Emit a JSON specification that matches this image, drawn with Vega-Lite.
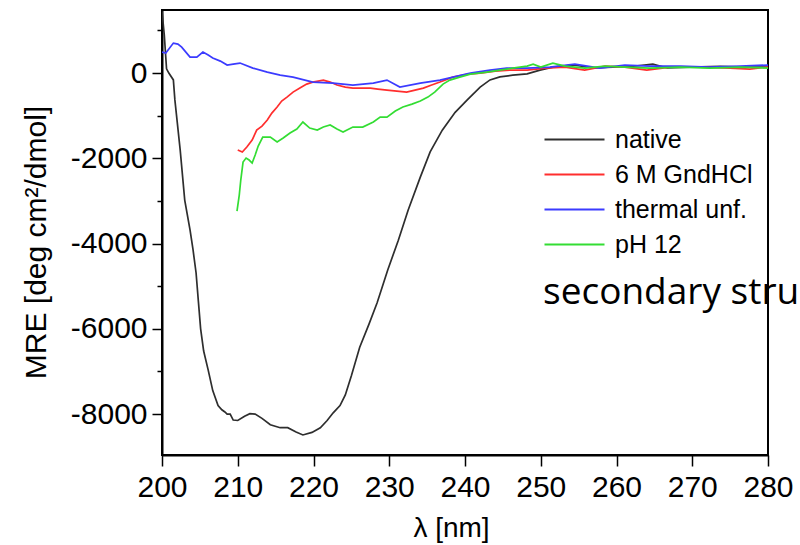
{
  "$schema": "https://vega.github.io/schema/vega-lite/v6.json",
  "width": 606,
  "height": 445,
  "autosize": "none",
  "padding": {"left": 162, "top": 10, "right": 32, "bottom": 90},
  "background": "white",
  "config": {"view": {"stroke": "black", "strokeWidth": 2}, "font": "Liberation Sans"},
  "layer": [
    {
      "data": {"values": [
        {"series": "native", "wl": 200.0, "mre": 1450},
        {"series": "native", "wl": 200.3, "mre": 900},
        {"series": "native", "wl": 200.6, "mre": 100},
        {"series": "native", "wl": 200.9, "mre": 0},
        {"series": "native", "wl": 201.5, "mre": -160},
        {"series": "native", "wl": 201.7, "mre": -630},
        {"series": "native", "wl": 202.4, "mre": -1800},
        {"series": "native", "wl": 203.0, "mre": -2980},
        {"series": "native", "wl": 203.7, "mre": -3680},
        {"series": "native", "wl": 204.1, "mre": -4150},
        {"series": "native", "wl": 204.5, "mre": -4690},
        {"series": "native", "wl": 204.8, "mre": -5350},
        {"series": "native", "wl": 205.1, "mre": -6000},
        {"series": "native", "wl": 205.5, "mre": -6520},
        {"series": "native", "wl": 206.1, "mre": -6970},
        {"series": "native", "wl": 206.7, "mre": -7450},
        {"series": "native", "wl": 207.4, "mre": -7800},
        {"series": "native", "wl": 207.9, "mre": -7900},
        {"series": "native", "wl": 208.3, "mre": -7950},
        {"series": "native", "wl": 208.6, "mre": -8000},
        {"series": "native", "wl": 209.0, "mre": -8000},
        {"series": "native", "wl": 209.4, "mre": -8140},
        {"series": "native", "wl": 210.0, "mre": -8150},
        {"series": "native", "wl": 210.9, "mre": -8050},
        {"series": "native", "wl": 211.6, "mre": -7990},
        {"series": "native", "wl": 212.3, "mre": -8000},
        {"series": "native", "wl": 213.2, "mre": -8100},
        {"series": "native", "wl": 214.3, "mre": -8250},
        {"series": "native", "wl": 215.6, "mre": -8320},
        {"series": "native", "wl": 216.6, "mre": -8320},
        {"series": "native", "wl": 217.7, "mre": -8420},
        {"series": "native", "wl": 218.6, "mre": -8490},
        {"series": "native", "wl": 219.8, "mre": -8430},
        {"series": "native", "wl": 220.9, "mre": -8320},
        {"series": "native", "wl": 221.8, "mre": -8150},
        {"series": "native", "wl": 222.6, "mre": -7970},
        {"series": "native", "wl": 223.5, "mre": -7800},
        {"series": "native", "wl": 224.2, "mre": -7550},
        {"series": "native", "wl": 225.0, "mre": -7100},
        {"series": "native", "wl": 226.1, "mre": -6430},
        {"series": "native", "wl": 227.3, "mre": -5900},
        {"series": "native", "wl": 228.4, "mre": -5390},
        {"series": "native", "wl": 229.8, "mre": -4620},
        {"series": "native", "wl": 231.2, "mre": -3920},
        {"series": "native", "wl": 232.5, "mre": -3210},
        {"series": "native", "wl": 234.1, "mre": -2440},
        {"series": "native", "wl": 235.4, "mre": -1850},
        {"series": "native", "wl": 237.0, "mre": -1340},
        {"series": "native", "wl": 238.7, "mre": -920},
        {"series": "native", "wl": 240.3, "mre": -630},
        {"series": "native", "wl": 242.0, "mre": -330},
        {"series": "native", "wl": 243.3, "mre": -160},
        {"series": "native", "wl": 244.6, "mre": -90},
        {"series": "native", "wl": 246.3, "mre": -50},
        {"series": "native", "wl": 248.2, "mre": -20},
        {"series": "native", "wl": 249.9, "mre": 70},
        {"series": "native", "wl": 251.6, "mre": 140},
        {"series": "native", "wl": 254.3, "mre": 190},
        {"series": "native", "wl": 256.9, "mre": 120},
        {"series": "native", "wl": 259.5, "mre": 140},
        {"series": "native", "wl": 262.2, "mre": 160},
        {"series": "native", "wl": 264.8, "mre": 210},
        {"series": "native", "wl": 266.7, "mre": 120},
        {"series": "native", "wl": 269.7, "mre": 140},
        {"series": "native", "wl": 273.7, "mre": 160},
        {"series": "native", "wl": 277.0, "mre": 140},
        {"series": "native", "wl": 280.0, "mre": 140},

        {"series": "6 M GndHCl", "wl": 210.0, "mre": -1806},
        {"series": "6 M GndHCl", "wl": 210.6, "mre": -1853},
        {"series": "6 M GndHCl", "wl": 211.2, "mre": -1735},
        {"series": "6 M GndHCl", "wl": 211.9, "mre": -1571},
        {"series": "6 M GndHCl", "wl": 212.5, "mre": -1337},
        {"series": "6 M GndHCl", "wl": 213.2, "mre": -1243},
        {"series": "6 M GndHCl", "wl": 213.9, "mre": -1102},
        {"series": "6 M GndHCl", "wl": 214.5, "mre": -938},
        {"series": "6 M GndHCl", "wl": 215.2, "mre": -797},
        {"series": "6 M GndHCl", "wl": 215.8, "mre": -657},
        {"series": "6 M GndHCl", "wl": 216.5, "mre": -563},
        {"series": "6 M GndHCl", "wl": 217.3, "mre": -446},
        {"series": "6 M GndHCl", "wl": 218.2, "mre": -352},
        {"series": "6 M GndHCl", "wl": 219.1, "mre": -258},
        {"series": "6 M GndHCl", "wl": 219.9, "mre": -211},
        {"series": "6 M GndHCl", "wl": 221.3, "mre": -164},
        {"series": "6 M GndHCl", "wl": 222.2, "mre": -211},
        {"series": "6 M GndHCl", "wl": 223.1, "mre": -281},
        {"series": "6 M GndHCl", "wl": 224.2, "mre": -328},
        {"series": "6 M GndHCl", "wl": 225.2, "mre": -352},
        {"series": "6 M GndHCl", "wl": 226.4, "mre": -352},
        {"series": "6 M GndHCl", "wl": 227.5, "mre": -352},
        {"series": "6 M GndHCl", "wl": 228.5, "mre": -375},
        {"series": "6 M GndHCl", "wl": 229.7, "mre": -399},
        {"series": "6 M GndHCl", "wl": 231.0, "mre": -422},
        {"series": "6 M GndHCl", "wl": 232.3, "mre": -446},
        {"series": "6 M GndHCl", "wl": 233.4, "mre": -399},
        {"series": "6 M GndHCl", "wl": 234.5, "mre": -352},
        {"series": "6 M GndHCl", "wl": 235.6, "mre": -281},
        {"series": "6 M GndHCl", "wl": 236.7, "mre": -211},
        {"series": "6 M GndHCl", "wl": 238.4, "mre": -94},
        {"series": "6 M GndHCl", "wl": 240.4, "mre": -23},
        {"series": "6 M GndHCl", "wl": 242.0, "mre": 0},
        {"series": "6 M GndHCl", "wl": 244.0, "mre": 47},
        {"series": "6 M GndHCl", "wl": 245.9, "mre": 70},
        {"series": "6 M GndHCl", "wl": 248.2, "mre": 70},
        {"series": "6 M GndHCl", "wl": 250.6, "mre": 117},
        {"series": "6 M GndHCl", "wl": 253.2, "mre": 141},
        {"series": "6 M GndHCl", "wl": 255.8, "mre": 70},
        {"series": "6 M GndHCl", "wl": 258.5, "mre": 164},
        {"series": "6 M GndHCl", "wl": 261.1, "mre": 141},
        {"series": "6 M GndHCl", "wl": 264.0, "mre": 70},
        {"series": "6 M GndHCl", "wl": 267.1, "mre": 141},
        {"series": "6 M GndHCl", "wl": 271.0, "mre": 141},
        {"series": "6 M GndHCl", "wl": 275.0, "mre": 117},
        {"series": "6 M GndHCl", "wl": 277.6, "mre": 94},
        {"series": "6 M GndHCl", "wl": 280.0, "mre": 141},

        {"series": "thermal unf.", "wl": 200.0, "mre": 492},
        {"series": "thermal unf.", "wl": 200.5, "mre": 469},
        {"series": "thermal unf.", "wl": 201.5, "mre": 704},
        {"series": "thermal unf.", "wl": 202.1, "mre": 680},
        {"series": "thermal unf.", "wl": 202.6, "mre": 610},
        {"series": "thermal unf.", "wl": 203.7, "mre": 375},
        {"series": "thermal unf.", "wl": 204.6, "mre": 375},
        {"series": "thermal unf.", "wl": 205.4, "mre": 492},
        {"series": "thermal unf.", "wl": 206.1, "mre": 422},
        {"series": "thermal unf.", "wl": 206.7, "mre": 352},
        {"series": "thermal unf.", "wl": 207.7, "mre": 281},
        {"series": "thermal unf.", "wl": 208.6, "mre": 188},
        {"series": "thermal unf.", "wl": 209.4, "mre": 211},
        {"series": "thermal unf.", "wl": 210.3, "mre": 235},
        {"series": "thermal unf.", "wl": 212.0, "mre": 117},
        {"series": "thermal unf.", "wl": 213.9, "mre": 23},
        {"series": "thermal unf.", "wl": 215.6, "mre": -47},
        {"series": "thermal unf.", "wl": 217.3, "mre": -94},
        {"series": "thermal unf.", "wl": 219.9, "mre": -211},
        {"series": "thermal unf.", "wl": 222.6, "mre": -235},
        {"series": "thermal unf.", "wl": 225.2, "mre": -281},
        {"series": "thermal unf.", "wl": 227.9, "mre": -235},
        {"series": "thermal unf.", "wl": 229.7, "mre": -164},
        {"series": "thermal unf.", "wl": 231.4, "mre": -328},
        {"series": "thermal unf.", "wl": 234.1, "mre": -235},
        {"series": "thermal unf.", "wl": 236.7, "mre": -164},
        {"series": "thermal unf.", "wl": 240.7, "mre": 0},
        {"series": "thermal unf.", "wl": 243.3, "mre": 70},
        {"series": "thermal unf.", "wl": 245.5, "mre": 117},
        {"series": "thermal unf.", "wl": 248.2, "mre": 117},
        {"series": "thermal unf.", "wl": 251.2, "mre": 141},
        {"series": "thermal unf.", "wl": 254.5, "mre": 211},
        {"series": "thermal unf.", "wl": 257.8, "mre": 117},
        {"series": "thermal unf.", "wl": 261.1, "mre": 188},
        {"series": "thermal unf.", "wl": 264.4, "mre": 164},
        {"series": "thermal unf.", "wl": 268.4, "mre": 164},
        {"series": "thermal unf.", "wl": 272.3, "mre": 141},
        {"series": "thermal unf.", "wl": 276.3, "mre": 164},
        {"series": "thermal unf.", "wl": 280.0, "mre": 188},

        {"series": "pH 12", "wl": 209.9, "mre": -3236},
        {"series": "pH 12", "wl": 210.2, "mre": -2861},
        {"series": "pH 12", "wl": 210.4, "mre": -2509},
        {"series": "pH 12", "wl": 210.7, "mre": -2087},
        {"series": "pH 12", "wl": 211.1, "mre": -1993},
        {"series": "pH 12", "wl": 211.5, "mre": -2040},
        {"series": "pH 12", "wl": 211.9, "mre": -2110},
        {"series": "pH 12", "wl": 212.3, "mre": -1923},
        {"series": "pH 12", "wl": 212.7, "mre": -1712},
        {"series": "pH 12", "wl": 213.3, "mre": -1501},
        {"series": "pH 12", "wl": 214.3, "mre": -1501},
        {"series": "pH 12", "wl": 215.2, "mre": -1618},
        {"series": "pH 12", "wl": 216.0, "mre": -1524},
        {"series": "pH 12", "wl": 216.9, "mre": -1407},
        {"series": "pH 12", "wl": 217.8, "mre": -1313},
        {"series": "pH 12", "wl": 218.6, "mre": -1149},
        {"series": "pH 12", "wl": 219.5, "mre": -1290},
        {"series": "pH 12", "wl": 220.5, "mre": -1337},
        {"series": "pH 12", "wl": 221.3, "mre": -1266},
        {"series": "pH 12", "wl": 222.2, "mre": -1219},
        {"series": "pH 12", "wl": 223.1, "mre": -1313},
        {"series": "pH 12", "wl": 223.9, "mre": -1384},
        {"series": "pH 12", "wl": 225.2, "mre": -1266},
        {"series": "pH 12", "wl": 226.5, "mre": -1266},
        {"series": "pH 12", "wl": 227.9, "mre": -1149},
        {"series": "pH 12", "wl": 228.8, "mre": -1032},
        {"series": "pH 12", "wl": 229.7, "mre": -1032},
        {"series": "pH 12", "wl": 230.8, "mre": -891},
        {"series": "pH 12", "wl": 231.8, "mre": -797},
        {"series": "pH 12", "wl": 233.0, "mre": -727},
        {"series": "pH 12", "wl": 234.1, "mre": -657},
        {"series": "pH 12", "wl": 235.1, "mre": -563},
        {"series": "pH 12", "wl": 236.0, "mre": -446},
        {"series": "pH 12", "wl": 237.1, "mre": -258},
        {"series": "pH 12", "wl": 238.0, "mre": -164},
        {"series": "pH 12", "wl": 239.3, "mre": -94},
        {"series": "pH 12", "wl": 240.7, "mre": -23},
        {"series": "pH 12", "wl": 242.9, "mre": 23},
        {"series": "pH 12", "wl": 244.6, "mre": 70},
        {"series": "pH 12", "wl": 246.3, "mre": 117},
        {"series": "pH 12", "wl": 248.2, "mre": 164},
        {"series": "pH 12", "wl": 249.0, "mre": 211},
        {"series": "pH 12", "wl": 250.0, "mre": 141},
        {"series": "pH 12", "wl": 251.6, "mre": 235},
        {"series": "pH 12", "wl": 253.2, "mre": 164},
        {"series": "pH 12", "wl": 255.8, "mre": 117},
        {"series": "pH 12", "wl": 258.5, "mre": 164},
        {"series": "pH 12", "wl": 261.1, "mre": 141},
        {"series": "pH 12", "wl": 264.4, "mre": 117},
        {"series": "pH 12", "wl": 268.4, "mre": 141},
        {"series": "pH 12", "wl": 272.3, "mre": 117},
        {"series": "pH 12", "wl": 276.3, "mre": 141},
        {"series": "pH 12", "wl": 280.0, "mre": 117}
      ]},
      "mark": {"type": "line", "strokeWidth": 1.7, "clip": true},
      "encoding": {
        "x": {
          "field": "wl", "type": "quantitative",
          "scale": {"domain": [200, 280], "nice": false, "zero": false},
          "axis": {
            "title": "λ [nm]",
            "values": [200, 205, 210, 215, 220, 225, 230, 235, 240, 245, 250, 255, 260, 265, 270, 275, 280],
            "labelExpr": "datum.value % 10 === 0 ? '' + datum.value : ''",
            "grid": false,
            "domainColor": "black", "domainWidth": 2,
            "tickColor": "black", "tickWidth": 1.5,
            "tickSize": {"condition": {"test": "datum.value % 10 === 0", "value": 11}, "value": 6},
            "labelPadding": 6,
            "labelFont": "Liberation Sans", "labelFontSize": 30, "labelColor": "black",
            "labelOverlap": false, "labelBound": false, "labelFlush": false,
            "titleFont": "Liberation Sans", "titleFontSize": 28, "titleFontWeight": "normal", "titleColor": "black",
            "titleX": 289, "titleY": 81, "titleBaseline": "alphabetic", "titleAlign": "center", "titleAnchor": null
          }
        },
        "y": {
          "field": "mre", "type": "quantitative",
          "scale": {"domain": [-8960, 1480], "nice": false, "zero": false},
          "axis": {
            "title": "MRE [deg cm²/dmol]",
            "values": [-8000, -7000, -6000, -5000, -4000, -3000, -2000, -1000, 0, 1000],
            "labelExpr": "datum.value % 2000 === 0 ? '' + datum.value : ''",
            "grid": false,
            "domainColor": "black", "domainWidth": 2,
            "tickColor": "black", "tickWidth": 1.5,
            "tickSize": {"condition": {"test": "datum.value % 2000 === 0", "value": 10}, "value": 5},
            "labelPadding": 5,
            "labelFont": "Liberation Sans", "labelFontSize": 30, "labelColor": "black",
            "labelOverlap": false, "labelBound": false, "labelFlush": false,
            "titleFont": "Liberation Sans", "titleFontSize": 30, "titleFontWeight": "normal", "titleColor": "black",
            "titleAngle": 270, "titleBaseline": "alphabetic", "titleAlign": "center",
            "titleX": -117, "titleY": 232
          }
        },
        "color": {
          "field": "series", "type": "nominal",
          "scale": {"domain": ["native", "6 M GndHCl", "thermal unf.", "pH 12"], "range": ["#2e2e2e", "#ff2e2e", "#3b3bff", "#33dd33"]},
          "legend": {
            "orient": "none", "legendX": 400, "legendY": 117, "title": null, "padding": 0,
            "symbolType": "M-3,0H3", "symbolSize": 400, "symbolStrokeWidth": 2,
            "labelFont": "Liberation Sans", "labelFontSize": 25, "labelColor": "black",
            "labelOffset": 28, "rowPadding": 9
          }
        }
      }
    },
    {
      "data": {"values": [{"label": "secondary stru"}]},
      "mark": {"type": "text", "font": "Open Sans", "fontSize": 37, "align": "left", "baseline": "alphabetic", "color": "black"},
      "encoding": {
        "text": {"field": "label"},
        "x": {"datum": 250.3, "type": "quantitative"},
        "y": {"datum": -5420, "type": "quantitative"}
      }
    }
  ]
}
